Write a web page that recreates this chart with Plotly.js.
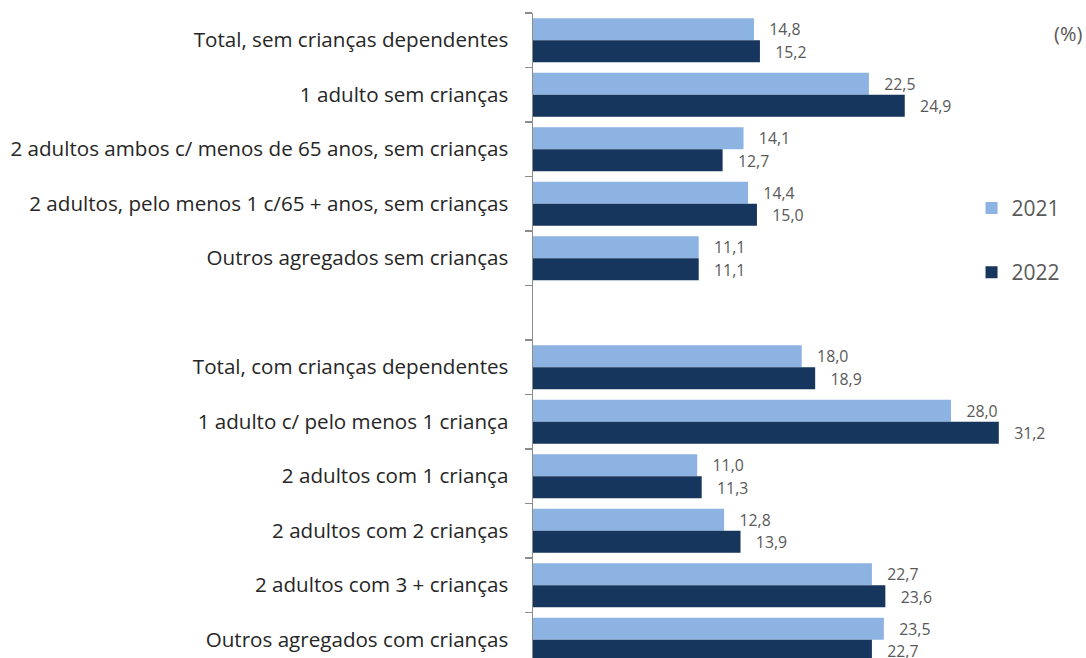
<!DOCTYPE html>
<html>
<head>
<meta charset="utf-8">
<script src="https://cdn.plot.ly/plotly-3.0.1.min.js"></script>
<style>html,body{margin:0;padding:0;background:#fff;}#chart{width:1086px;height:658px;}</style>
</head>
<body>
<div id="chart"></div>
<script>
const categories = [
  "Total, sem crianças dependentes",
  "1 adulto sem crianças",
  "2 adultos ambos c/ menos de 65 anos, sem crianças",
  "2 adultos, pelo menos 1 c/65 + anos, sem crianças",
  "Outros agregados sem crianças",
  " ",
  "Total, com crianças dependentes",
  "1 adulto c/ pelo menos 1 criança",
  "2 adultos com 1 criança",
  "2 adultos com 2 crianças",
  "2 adultos com 3 + crianças",
  "Outros agregados com crianças"
];
const values2021 = [14.8, 22.5, 14.1, 14.4, 11.1, null, 18.0, 28.0, 11.0, 12.8, 22.7, 23.5];
const values2022 = [15.2, 24.9, 12.7, 15.0, 11.1, null, 18.9, 31.2, 11.3, 13.9, 23.6, 22.7];
const seriesNames = ["2021", "2022"];

const FONT = "'Open Sans', 'Noto Sans', sans-serif";
const traces = [
  {
    type: "bar", orientation: "h", name: seriesNames[0], legendgroup: "a",
    y: categories, x: values2021,
    marker: {color: "#8DB3E2"},
    texttemplate: "   %{x:.1f}", textposition: "outside", cliponaxis: false,
    textfont: {family: FONT, size: 16.5, color: "#595959"},
    hoverinfo: "x+y"
  },
  {
    type: "bar", orientation: "h", name: seriesNames[1], legendgroup: "b",
    y: categories, x: values2022,
    marker: {color: "#17365D"},
    texttemplate: "   %{x:.1f}", textposition: "outside", cliponaxis: false,
    textfont: {family: FONT, size: 16.5, color: "#595959"},
    hoverinfo: "x+y"
  }
];

const layout = {
  width: 1086, height: 658,
  margin: {l: 533, r: 0, t: 13, b: 0, pad: 0},
  separators: ",.",
  barmode: "group", bargap: 0.19, bargroupgap: 0,
  paper_bgcolor: "#fff", plot_bgcolor: "rgba(0,0,0,0)",
  font: {family: FONT, size: 18, color: "#262626"},
  showlegend: true,
  legend: {
    x: 0.793, y: 0.729, xanchor: "left", yanchor: "top",
    traceorder: "grouped", tracegroupgap: 34,
    font: {family: FONT, size: 21, color: "#595959"},
    bgcolor: "rgba(0,0,0,0)"
  },
  xaxis: {
    range: [0, 37.04], showgrid: false, zeroline: false, showline: false,
    showticklabels: false, ticks: "", fixedrange: true
  },
  yaxis: {
    type: "category", categoryorder: "array", categoryarray: categories,
    range: [11.335, -0.5],
    showline: true, linecolor: "#8C8C8C", linewidth: 1.5,
    ticks: "outside", ticklen: 7, tickcolor: "#8C8C8C", tickwidth: 1.5,
    tickson: "boundaries", ticklabelstandoff: 19,
    showgrid: false, zeroline: false,
    tickfont: {family: FONT, size: 20.6, color: "#262626"}
  },
  annotations: [
    {text: "(%)", xref: "paper", yref: "paper", x: 1, y: 1, xanchor: "right", yanchor: "top",
     xshift: -2, yshift: -5, showarrow: false, font: {family: FONT, size: 20, color: "#595959"}}
  ]
};

Plotly.newPlot("chart", traces, layout, {displayModeBar: false, staticPlot: true});
</script>
</body>
</html>
